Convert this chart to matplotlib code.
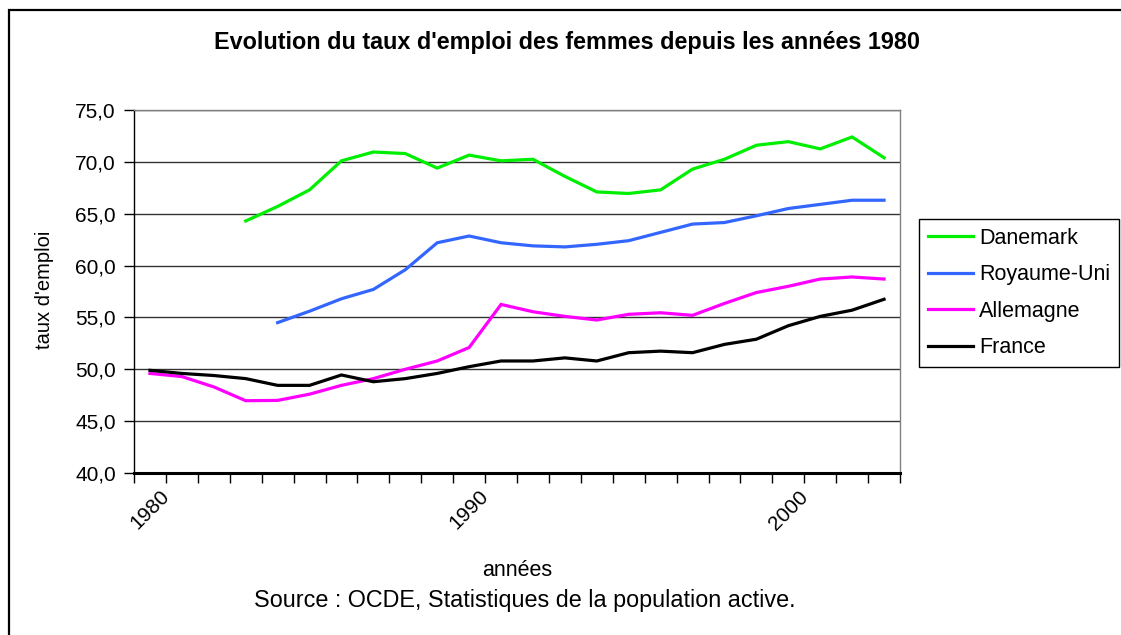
import numpy as np
import matplotlib
matplotlib.use('Agg')
import matplotlib.pyplot as plt
from matplotlib.patches import Rectangle

plt.rcParams['font.family'] = ['Liberation Sans', 'DejaVu Sans']

years = list(range(1980, 2004))
nan = np.nan

danemark = [nan, nan, nan, 64.3, 65.7, 67.3, 70.1, 70.95, 70.8, 69.4, 70.65, 70.1,
            70.25, 68.6, 67.1, 66.95, 67.3, 69.3, 70.25, 71.6, 71.95, 71.25, 72.4, 70.4]
royaume_uni = [nan, nan, nan, nan, 54.5, 55.6, 56.8, 57.7, 59.6, 62.2, 62.85, 62.2,
               61.9, 61.8, 62.05, 62.4, 63.2, 64.0, 64.15, 64.8, 65.5, 65.9, 66.3, 66.3]
allemagne = [49.6, 49.3, 48.3, 46.97, 47.0, 47.6, 48.45, 49.1, 50.0, 50.8, 52.1, 56.25,
             55.55, 55.1, 54.75, 55.3, 55.45, 55.2, 56.35, 57.4, 58.0, 58.7, 58.9, 58.7]
france = [49.9, 49.6, 49.4, 49.1, 48.45, 48.45, 49.45, 48.8, 49.1, 49.6, 50.25, 50.8,
          50.8, 51.1, 50.8, 51.6, 51.75, 51.6, 52.4, 52.9, 54.2, 55.1, 55.7, 56.75]

series = [('Danemark', danemark, '#00ee00'),
          ('Royaume-Uni', royaume_uni, '#3366ff'),
          ('Allemagne', allemagne, '#ff00ff'),
          ('France', france, '#000000')]

W, H = 1121, 635
fig = plt.figure(figsize=(W / 100, H / 100), dpi=100)
ax = fig.add_axes([134 / W, 1 - 473 / H, (900 - 134) / W, (473 - 110) / H])

x = np.arange(len(years))
for name, vals, col in series:
    ax.plot(x, vals, color=col, lw=2.3, label=name, solid_joinstyle='miter')

ax.set_xlim(-0.5, len(years) - 0.5)
ax.set_ylim(40, 75)
ax.set_yticks(np.arange(40, 76, 5))
ax.set_yticklabels([f'{v:.1f}'.replace('.', ',') for v in np.arange(40, 76, 5)], fontsize=15)
ax.grid(axis='y', color='#333333', lw=1)
ax.set_axisbelow(True)

# category boundaries get the tick marks, labels every 10 years
ax.set_xticks(np.arange(-0.5, len(years), 1), minor=True)
ax.set_xticks([0, 10, 20])
ax.set_xticklabels([str(years[i]) for i in [0, 10, 20]], fontsize=15,
                   rotation=45, ha='center', va='top')
ax.tick_params(axis='x', which='major', length=0, pad=10)
ax.tick_params(axis='x', which='minor', length=7, width=1, color='black', direction='out')
ax.tick_params(axis='y', length=7, width=1, direction='out', pad=6)

for s in ['top', 'right']:
    ax.spines[s].set_color('#808080')
    ax.spines[s].set_linewidth(1)
ax.spines['bottom'].set_linewidth(2.2)
ax.spines['left'].set_linewidth(1)

fig.text(517 / W, 1 - 571 / H, 'années', fontsize=15.5, ha='center', va='center')
fig.text(45 / W, 1 - 290 / H, "taux d'emploi", rotation=90, fontsize=14.5,
         ha='center', va='center')
fig.text(525 / W, 1 - 601 / H, 'Source : OCDE, Statistiques de la population active.',
         fontsize=16.8, ha='center', va='center')
fig.text(567 / W, 1 - 43 / H, "Evolution du taux d'emploi des femmes depuis les années 1980",
         fontsize=16.8, fontweight='bold', ha='center', va='center')

leg = fig.legend(loc='upper left', bbox_to_anchor=(919 / W, 1 - 219 / H),
                 borderaxespad=0, fancybox=False, framealpha=1, edgecolor='black',
                 fontsize=15.5, handlelength=2.1, handletextpad=0.3,
                 labelspacing=0.72, borderpad=0.4)
leg.get_frame().set_linewidth(1)

# outer chart frame (only top and left edges are inside the picture)
fig.patches.append(Rectangle((9 / W, -0.1), 1.2, 1 - 10 / H + 0.1,
                             transform=fig.transFigure, fill=False,
                             edgecolor='black', lw=1.6))

fig.savefig('out.png', dpi=100)
